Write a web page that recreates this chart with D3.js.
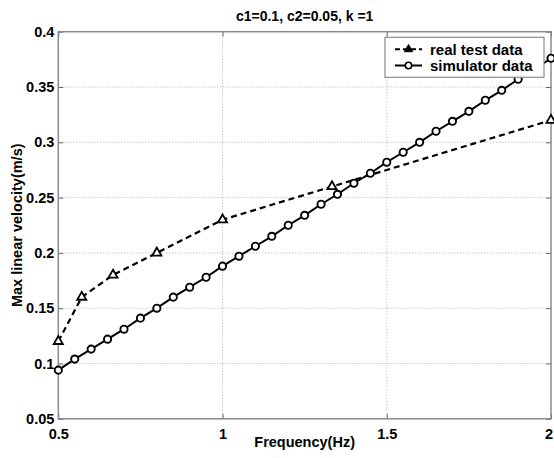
<!DOCTYPE html>
<html>
<head>
<meta charset="utf-8">
<script src="https://cdn.jsdelivr.net/npm/d3@7"></script>
<style>
  body { margin: 0; background: #fff; }
  svg { display: block; font-family: "Liberation Sans", Arial, sans-serif; font-weight: bold; }
</style>
</head>
<body>
<svg id="chart" width="554" height="458"></svg>
<script>
// real test data (triangles, dashed)
var testFreq = [0.5, 4 / 7, 2 / 3, 0.8, 1.0, 4 / 3, 2.0];
var testVel = [0.12, 0.16, 0.18, 0.20, 0.23, 0.26, 0.32];

// simulator data (circles, solid), 0.5 .. 2.0 Hz
var simFreq = [0.50, 0.55, 0.60, 0.65, 0.70, 0.75, 0.80, 0.85, 0.90, 0.95,
               1.00, 1.05, 1.10, 1.15, 1.20, 1.25, 1.30, 1.35, 1.40, 1.45,
               1.50, 1.55, 1.60, 1.65, 1.70, 1.75, 1.80, 1.85, 1.90, 1.95, 2.00];
var simVel = [0.094, 0.104, 0.113, 0.122, 0.131, 0.141, 0.150, 0.160, 0.169, 0.178,
              0.188, 0.197, 0.206, 0.215, 0.225, 0.234, 0.244, 0.253, 0.263, 0.272,
              0.282, 0.291, 0.300, 0.310, 0.319, 0.328, 0.338, 0.347, 0.357, 0.366, 0.376];

var xTicks = [0.5, 1, 1.5, 2];
var yTicks = [0.05, 0.1, 0.15, 0.2, 0.25, 0.3, 0.35, 0.4];
var legendLabels = ["real test data", "simulator data"];

var chartTitle = "c1=0.1, c2=0.05, k =1";
var xTitle = "Frequency(Hz)";
var yTitle = "Max linear velocity(m/s)";

var margin = { left: 58.3, right: 3, top: 31.7, bottom: 39.2 };
var W = 554, H = 458;
var pw = W - margin.left - margin.right;
var ph = H - margin.top - margin.bottom;

var svg = d3.select("#chart");
var g = svg.append("g").attr("transform", "translate(" + margin.left + "," + margin.top + ")");

var x = d3.scaleLinear().domain([0.5, 2]).range([0, pw]);
var y = d3.scaleLinear().domain([0.05, 0.4]).range([ph, 0]);

// grid
g.append("g").selectAll("line").data(xTicks.slice(1, -1)).enter().append("line")
    .attr("x1", function(d) { return x(d); }).attr("x2", function(d) { return x(d); })
    .attr("y1", 0).attr("y2", ph)
    .attr("stroke", "#b0b0b0").attr("stroke-width", 1).attr("stroke-dasharray", "1,2");
g.append("g").selectAll("line").data(yTicks.slice(1, -1)).enter().append("line")
    .attr("y1", function(d) { return y(d); }).attr("y2", function(d) { return y(d); })
    .attr("x1", 0).attr("x2", pw)
    .attr("stroke", "#b0b0b0").attr("stroke-width", 1).attr("stroke-dasharray", "1,2");

// axes (ticks inside, like matlab)
var xAxis = d3.axisBottom(x).tickValues(xTicks).tickSize(-5).tickPadding(10)
    .tickFormat(function(d) { return String(d); });
var yAxis = d3.axisLeft(y).tickValues(yTicks).tickSize(-5).tickPadding(4)
    .tickFormat(function(d) { return String(d); });

var gx = g.append("g").attr("transform", "translate(0," + ph + ")").call(xAxis);
g.append("g").call(yAxis);
g.append("g").call(d3.axisTop(x).tickValues(xTicks).tickSize(-5).tickFormat(""));
g.append("g").attr("transform", "translate(" + pw + ",0)")
    .call(d3.axisRight(y).tickValues(yTicks).tickSize(-5).tickFormat(""));

g.selectAll(".domain").remove();
g.selectAll(".tick line").attr("stroke", "#666");
g.selectAll(".tick text").attr("fill", "#000")
    .style("font-size", "14.5px").style("font-weight", "bold")
    .style("font-family", "'Liberation Sans', Arial, sans-serif");
// keep the last x label inside the page
gx.selectAll(".tick text").filter(function(d) { return d === 2; }).attr("dx", -2.5);

// frame
g.append("rect").attr("x", 0).attr("y", 0).attr("width", pw).attr("height", ph)
    .attr("fill", "none").attr("stroke", "#8a8a8a").attr("stroke-width", 1.5);

// series
var line = d3.line().x(function(d) { return x(d[0]); }).y(function(d) { return y(d[1]); });
var testPts = d3.zip(testFreq, testVel);
var simPts = d3.zip(simFreq, simVel);

g.append("path").datum(testPts).attr("d", line)
    .attr("fill", "none").attr("stroke", "#000").attr("stroke-width", 2.2)
    .attr("stroke-dasharray", "6,4");
g.append("path").datum(simPts).attr("d", line)
    .attr("fill", "none").attr("stroke", "#000").attr("stroke-width", 2);

var tri = d3.symbol().type(d3.symbolTriangle).size(36);
g.append("g").selectAll("path").data(testPts).enter().append("path")
    .attr("d", tri)
    .attr("transform", function(d) { return "translate(" + x(d[0]) + "," + y(d[1]) + ")"; })
    .attr("fill", "#fff").attr("stroke", "#000").attr("stroke-width", 1.8);

g.append("g").selectAll("circle").data(simPts).enter().append("circle")
    .attr("cx", function(d) { return x(d[0]); })
    .attr("cy", function(d) { return y(d[1]); })
    .attr("r", 3.6).attr("fill", "#fff").attr("stroke", "#000").attr("stroke-width", 1.9);

// legend
var lg = svg.append("g").attr("transform", "translate(385,37.3)");
lg.append("rect").attr("width", 159).attr("height", 40)
    .attr("fill", "#fff").attr("stroke", "#8a8a8a").attr("stroke-width", 1.2);
legendLabels.forEach(function(lab, i) {
    var cy = 12 + i * 16.2;
    var row = lg.append("g");
    row.append("line").attr("x1", 10).attr("x2", 37).attr("y1", cy).attr("y2", cy)
        .attr("stroke", "#000").attr("stroke-width", 2)
        .attr("stroke-dasharray", i === 0 ? "5,3" : null);
    if (i === 0) {
        row.append("path").attr("d", d3.symbol().type(d3.symbolTriangle).size(30))
            .attr("transform", "translate(23.5," + cy + ")")
            .attr("fill", "#000").attr("stroke", "#000").attr("stroke-width", 1);
    } else {
        row.append("circle").attr("cx", 23.5).attr("cy", cy).attr("r", 3.2)
            .attr("fill", "#fff").attr("stroke", "#000").attr("stroke-width", 1.6);
    }
    row.append("text").attr("x", 45).attr("y", cy + 5.3)
        .style("font-size", "15px").text(lab);
});

// titles
svg.append("text").attr("x", margin.left + pw / 2).attr("y", 20.5)
    .attr("text-anchor", "middle").style("font-size", "14px").text(chartTitle);
svg.append("text").attr("x", margin.left + pw / 2).attr("y", 447)
    .attr("text-anchor", "middle").style("font-size", "14.5px").text(xTitle);
svg.append("text").attr("transform", "translate(21.5," + (margin.top + ph / 2) + ") rotate(-90)")
    .attr("text-anchor", "middle").style("font-size", "14.5px").text(yTitle);
</script>
</body>
</html>
